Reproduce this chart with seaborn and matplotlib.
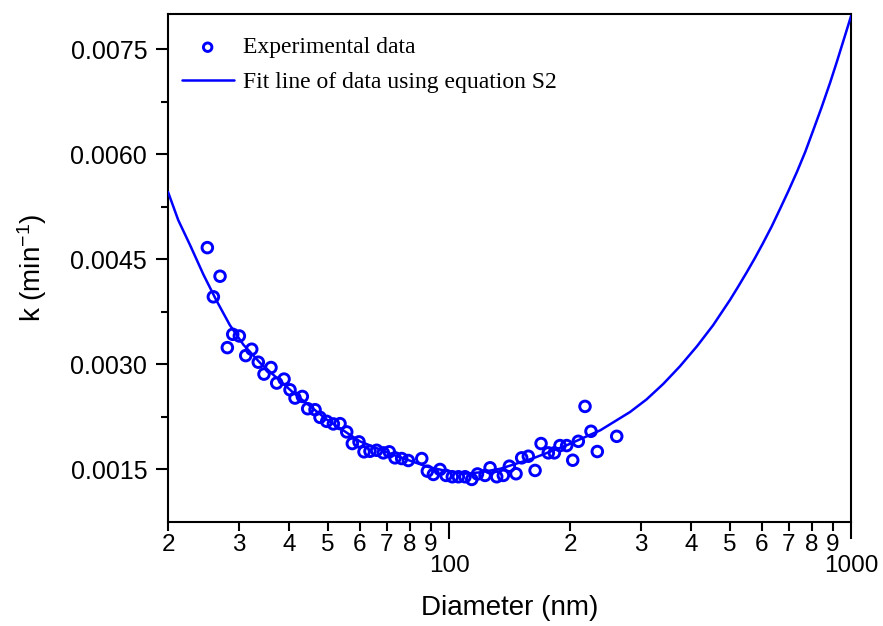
import matplotlib
matplotlib.use('Agg')
import matplotlib.pyplot as plt
import matplotlib.ticker as ticker
import numpy as np
import pandas as pd
import seaborn as sns

# experimental points
diameter = [25.05, 26.94, 25.93, 28.09, 28.97, 30.09, 31.21, 32.30, 33.54, 34.65,
            36.07, 37.27, 38.87, 40.22, 41.39, 43.16, 44.51, 46.42, 47.76, 49.63,
            51.55, 53.56, 55.66, 57.47, 59.71, 61.45, 63.59, 66.07, 68.63, 71.02,
            73.39, 76.25, 79.20, 85.54, 88.32, 91.42, 94.97, 98.30, 101.9, 105.5,
            109.6, 113.9, 117.7, 122.9, 126.5, 131.4, 136.5, 141.3, 146.8, 151.6,
            157.5, 163.7, 169.4, 176.6, 182.8, 188.8, 196.2, 203.1, 209.7, 217.9,
            225.5, 233.8, 261.3]
k_exp = [0.004666, 0.004258, 0.003964, 0.003239, 0.003429, 0.003405, 0.003125, 0.003216,
         0.003031, 0.002861, 0.002955, 0.002733, 0.002790, 0.002637, 0.002519, 0.002542,
         0.002367, 0.002353, 0.002244, 0.002187, 0.002150, 0.002154, 0.002036, 0.001870,
         0.001894, 0.001752, 0.001760, 0.001774, 0.001737, 0.001752, 0.001666, 0.001656,
         0.001628, 0.001656, 0.001476, 0.001429, 0.001500, 0.001415, 0.001396, 0.001396,
         0.001396, 0.001358, 0.001436, 0.001415, 0.001524, 0.001396, 0.001415, 0.001547,
         0.001439, 0.001666, 0.001689, 0.001486, 0.001870, 0.001737, 0.001737, 0.001841,
         0.001841, 0.001632, 0.001902, 0.002400, 0.002045, 0.001756, 0.001973]

# fitted curve (eq. S2)
fit_d = [20, 21.2, 22.7, 24.5, 26.4, 28.5, 30.8, 33.9, 40.9, 49.7, 60.1, 72.6, 88.2,
         100, 110, 120, 134, 162, 197, 238, 282, 310, 341, 375, 414, 454, 500, 524,
         551, 577, 604, 635, 666, 698, 734, 769, 804, 845, 887, 921, 955, 1000]
fit_k = [0.00546, 0.00506, 0.00470, 0.00428, 0.00391, 0.00356, 0.00328, 0.00302,
         0.00260, 0.00221, 0.00190, 0.00171, 0.00154, 0.00147, 0.00144, 0.00146,
         0.00151, 0.00166, 0.00185, 0.00206, 0.00232, 0.00250, 0.00272, 0.00297,
         0.00326, 0.00356, 0.00392, 0.00411, 0.00432, 0.00452, 0.00473, 0.00497,
         0.00522, 0.00547, 0.00575, 0.00603, 0.00633, 0.00667, 0.00702, 0.00731,
         0.00760, 0.00797]

y_major = [0.0015, 0.0030, 0.0045, 0.0060, 0.0075]
y_minor = [0.00225, 0.00375, 0.00525, 0.00675]
x_major = [100, 1000]
x_minor = [20, 30, 40, 50, 60, 70, 80, 90, 200, 300, 400, 500, 600, 700, 800, 900]
x_minor_labels = ['2', '3', '4', '5', '6', '7', '8', '9'] * 2

sns.set_style('ticks')
plt.rcParams['font.family'] = ['Liberation Sans', 'DejaVu Sans']
plt.rcParams['mathtext.default'] = 'regular'
for key in ['text.color', 'axes.labelcolor', 'xtick.color', 'ytick.color']:
    plt.rcParams[key] = 'black'

exp_df = pd.DataFrame({'d': diameter, 'k': k_exp})
fit_df = pd.DataFrame({'d': fit_d, 'k': fit_k})

fig = plt.figure(figsize=(8.83, 6.26), dpi=100)
ax = fig.add_axes([0.1903, 0.1661, 0.7735, 0.8115])

sns.scatterplot(data=exp_df, x='d', y='k', ax=ax, marker='o', s=58,
                facecolor='none', edgecolor='#0000ff', linewidth=2.1,
                label='Experimental data', zorder=2)
sns.lineplot(data=fit_df, x='d', y='k', ax=ax, sort=False, estimator=None,
             color='#0000ff', linewidth=1.8,
             label='Fit line of data using equation S2', zorder=3)

ax.set_xscale('log')
ax.set_xlim(20, 1000)
ax.set_ylim(0.00075, 0.0080)

ax.xaxis.set_major_locator(ticker.FixedLocator(x_major))
ax.xaxis.set_major_formatter(ticker.FixedFormatter(['100', '1000']))
ax.xaxis.set_minor_locator(ticker.FixedLocator(x_minor))
ax.xaxis.set_minor_formatter(ticker.FixedFormatter(x_minor_labels))
ax.yaxis.set_major_locator(ticker.FixedLocator(y_major))
ax.yaxis.set_major_formatter(ticker.FormatStrFormatter('%.4f'))
ax.yaxis.set_minor_locator(ticker.FixedLocator(y_minor))

ax.tick_params(axis='x', which='major', length=12, width=1.5, pad=12, labelsize=17.5, direction='out')
ax.tick_params(axis='x', which='minor', length=6.5, width=1.5, pad=2, labelsize=17.5, direction='out')
ax.tick_params(axis='y', which='major', length=9, width=1.5, pad=6, labelsize=18, direction='out')
ax.tick_params(axis='y', which='minor', length=5, width=1.5, direction='out')

for sp in ax.spines.values():
    sp.set_visible(True)
    sp.set_linewidth(1.5)
    sp.set_color('black')

ax.set_xlabel('Diameter (nm)', fontsize=20, labelpad=13)
ax.set_ylabel('k (min$^{-1}$)', fontsize=20, labelpad=15)

handles, labels = ax.get_legend_handles_labels()
ax.legend(handles, labels, loc='upper left', bbox_to_anchor=(0.02, 0.955),
          frameon=False, borderpad=0, borderaxespad=0, markerscale=0.8,
          handlelength=2.2, handletextpad=0.4, labelspacing=0.55,
          prop={'family': ['Liberation Serif', 'DejaVu Serif'], 'size': 17})

fig.savefig('out.png', dpi=100)
